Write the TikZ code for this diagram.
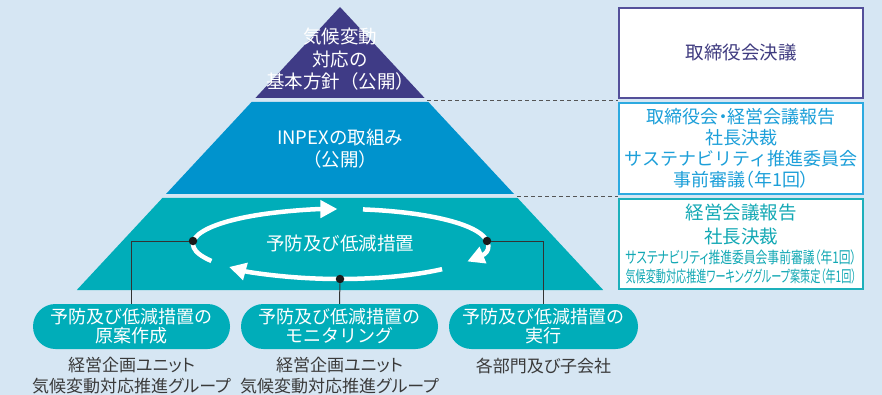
\documentclass[tikz,border=0pt]{standalone}
\usepackage{fontspec}
\usepackage{graphicx}
\setmainfont{Noto Sans CJK JP}
\newfontfamily\jpp[RawFeature=+palt]{Noto Sans CJK JP}
\usetikzlibrary{arrows.meta}
\definecolor{bg}{HTML}{D6E6F3}
\definecolor{cPurple}{HTML}{3F3B86}
\definecolor{cBlue}{HTML}{0093CD}
\definecolor{cTeal}{HTML}{00ADB9}
\definecolor{bPurple}{HTML}{54509A}
\definecolor{tPurple}{HTML}{3F3B80}
\definecolor{bBlue}{HTML}{2DAAE0}
\definecolor{tBlue}{HTML}{1C9FD9}
\definecolor{bTeal}{HTML}{1DB0BB}
\definecolor{tTeal}{HTML}{12A8B4}
\definecolor{dotc}{HTML}{1A1A1A}
\definecolor{linec}{HTML}{333333}
\definecolor{dashc}{HTML}{555555}
\definecolor{capc}{HTML}{3A3A3A}
\begin{document}
\begin{tikzpicture}[x=1pt,y=-1pt,
 wtext/.style={text=white, align=center, inner sep=0pt},
 pill/.style={fill=cTeal, rounded corners=22.5pt, minimum height=45pt, text=white, align=center, inner sep=0pt, font=\fontsize{18}{19}\selectfont},
 rbox/.style={draw, line width=1.6pt, fill=white, minimum width=244pt, align=center, inner sep=0pt},
 dotn/.style={circle, fill=dotc, minimum size=8.5pt, inner sep=0pt},
 conn/.style={draw=linec, line width=1pt},
 warrow/.style={draw=white, line width=4.5pt, -{Triangle[length=17pt,width=17pt]}},
 dashl/.style={draw=dashc, line width=1.2pt, dash pattern=on 4pt off 3pt},
 captext/.style={text=capc, align=center, inner sep=0pt, font=\jpp\fontsize{17}{21}\selectfont}]
\fill[bg] (0,0) rectangle (882,395);
\useasboundingbox (0,0) rectangle (882,395);
% pyramid
\fill[cPurple] (340,7) -- (424.6,98) -- (255.4,98) -- cycle;
\fill[cBlue] (251.6,102) -- (428.4,102) -- (514,194) -- (166,194) -- cycle;
\fill[cTeal] (162.4,198) -- (517.6,198) -- (603.2,290) -- (76.8,290) -- cycle;
\node[wtext, font=\fontsize{18.5}{22.5}\selectfont] (t1) at (340,59.5) {気候変動\\対応の\\基本方針（公開）};
\node[wtext, font=\fontsize{18.5}{22}\selectfont] (t2) at (340,149) {INPEXの取組み\\（公開）};
% cycle arrows
\draw[warrow] (340,244) ++(151:147 and 35) arc[start angle=151,end angle=269,x radius=147,y radius=35];
\draw[warrow] (340,244) ++(279:147 and 35) arc[start angle=279,end angle=390,x radius=147,y radius=35];
\draw[warrow] (340,244) ++(46:147 and 35) arc[start angle=46,end angle=139,x radius=147,y radius=35];
\node[wtext, font=\fontsize{18.5}{20}\selectfont] (t3) at (340,243) {予防及び低減措置};
% dots
\node[dotn] (dL) at (193,241) {};
\node[dotn] (dR) at (487,241) {};
\node[dotn] (dB) at (340,279) {};
% pills
\node[pill, minimum width=197pt] (p1) at (131.5,326.5) {予防及び低減措置の\\原案作成};
\node[pill, minimum width=197pt] (p2) at (339.5,326.5) {予防及び低減措置の\\モニタリング};
\node[pill, minimum width=189pt] (p3) at (543.5,326.5) {予防及び低減措置の\\実行};
% connectors
\draw[conn] (dL) -| (p1.north);
\draw[conn] (dB) -- (p2.north);
\draw[conn] (dR) -| (p3.north);
% captions
\node[captext] (c1) at (131.5,375.5) {経営企画ユニット\\気候変動対応推進グループ};
\node[captext] (c2) at (339.5,375.5) {経営企画ユニット\\気候変動対応推進グループ};
\node[captext] (c3) at (543.5,366) {各部門及び子会社};
% right boxes
\node[rbox, draw=bPurple, text=tPurple, minimum height=90pt, font=\fontsize{18.5}{21}\selectfont] (b1) at (741,53) {取締役会決議};
\node[rbox, draw=bBlue, text=tBlue, minimum height=91pt, font=\fontsize{18}{21}\selectfont] (b2) at (741,148.5) {{\jpp 取締役会・経営会議報告}\\社長決裁\\サステナビリティ推進委員会\\{\jpp 事前審議（年1回）}};
\node[rbox, draw=bTeal, minimum height=90pt] (b3) at (741,244) {};
\node[text=tTeal, inner sep=0pt, font=\fontsize{18.5}{20}\selectfont] (b3a) at (741,213) {経営会議報告};
\node[text=tTeal, inner sep=0pt, font=\fontsize{18.5}{20}\selectfont] (b3b) at (741,236.5) {社長決裁};
\node[text=tTeal, inner sep=0pt, font=\jpp\fontsize{16}{16}\selectfont] (b3c) at (741,257) {\resizebox{231pt}{\height}{サステナビリティ推進委員会事前審議（年1回）}};
\node[text=tTeal, inner sep=0pt, font=\jpp\fontsize{16}{16}\selectfont] (b3d) at (741,276) {\resizebox{231pt}{\height}{気候変動対応推進ワーキンググループ案策定（年1回）}};
% dashed leaders
\coordinate (dA) at (427,100.5);
\coordinate (dBB) at (517,196.5);
\draw[dashl] (dA) -- (dA -| b1.west);
\draw[dashl] (dBB) -- (dBB -| b3.west);
\end{tikzpicture}
\end{document}
